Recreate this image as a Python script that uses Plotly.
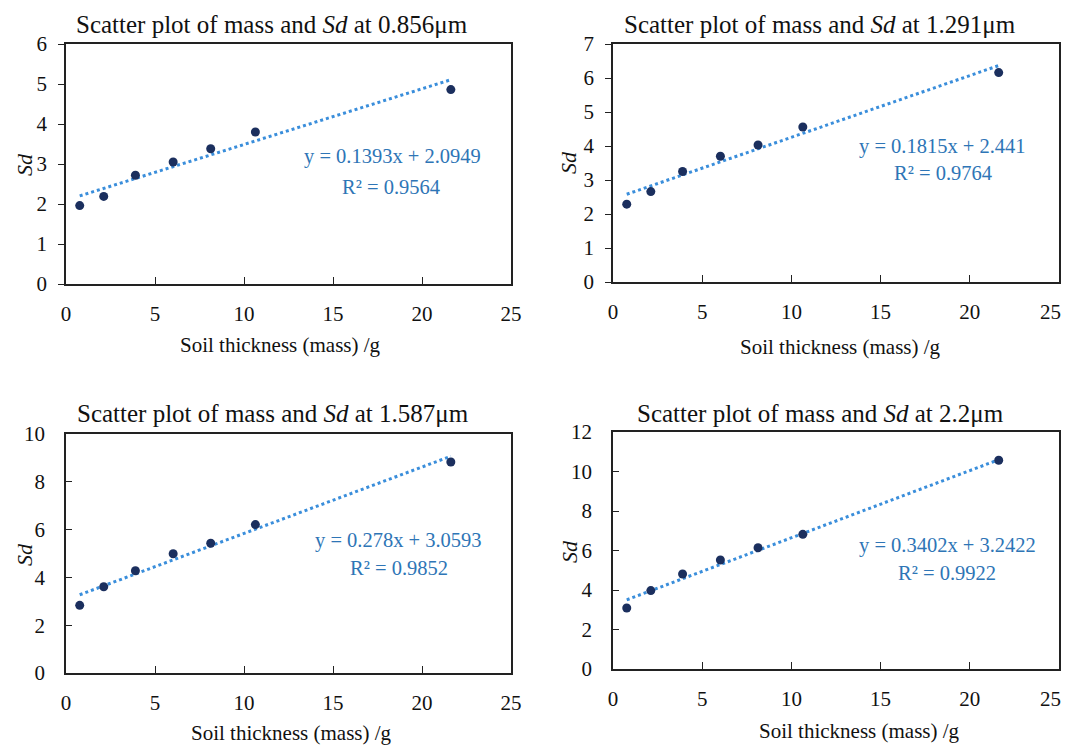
import numpy as np
import plotly.graph_objects as go
from plotly.subplots import make_subplots

# page has an 8px body margin; figure sized so page fits the 1071x746 window
OFF = 8
FW, FH = 1063, 738

mass = [0.77, 2.12, 3.9, 6.02, 8.13, 10.64, 21.62]
sd_0856 = [1.96, 2.19, 2.72, 3.05, 3.38, 3.80, 4.86]
sd_1291 = [2.29, 2.66, 3.25, 3.70, 4.03, 4.56, 6.16]
sd_1587 = [2.83, 3.61, 4.28, 4.99, 5.43, 6.21, 8.83]
sd_2200 = [3.09, 3.97, 4.81, 5.52, 6.14, 6.82, 10.57]

wavelengths = ["0.856", "1.291", "1.587", "2.2"]
slopes = [0.1393, 0.1815, 0.278, 0.3402]
intercepts = [2.0949, 2.441, 3.0593, 3.2422]
r2 = ["0.9564", "0.9764", "0.9852", "0.9922"]
eq_text = ["y = 0.1393x + 2.0949", "y = 0.1815x + 2.441",
           "y = 0.278x + 3.0593", "y = 0.3402x + 3.2422"]
y_max = [6, 7, 10, 12]
y_dtick = [1, 1, 2, 2]
x_ticks = [0, 5, 10, 15, 20, 25]
x_ticklabels = ["0", "5", "10", "15", "20", "25"]
series = [sd_0856, sd_1291, sd_1587, sd_2200]

# screen-pixel boxes of plot areas (x_left, x_right, y_top, y_bottom)
boxes = [(66, 511, 44, 284), (613, 1059, 44, 282),
         (66, 511, 434, 673), (613, 1059, 432, 669)]
title_pos = [(272, 25), (820, 25), (273, 413), (820, 413)]
xtitle_pos = [(280, 345), (840, 347), (291, 733), (859, 731)]
ytitle_pos = [(24, 165), (569, 163), (24, 555), (569, 552)]
eq_pos = [(392, 157), (942, 147), (398, 540), (947, 545)]
r2_pos = [(391, 187), (943, 173), (399, 568), (947, 573)]
yticks_dir = ["outside", "outside", "inside", "inside"]
right_col = [False, True, False, True]

FONT = "Liberation Serif"
MARKER = "#1B2F5E"
TREND = "#3A8EDB"
TXT = "#2E75B6"

fig = make_subplots(rows=2, cols=2)

for i in range(4):
    r, c = i // 2 + 1, i % 2 + 1
    ys = series[i]
    xl = np.array([min(mass), max(mass)])
    yl = slopes[i] * xl + intercepts[i]
    fig.add_trace(go.Scatter(x=xl, y=yl, mode="lines",
                             line=dict(color=TREND, width=3, dash="dot"),
                             showlegend=False, hoverinfo="skip"), row=r, col=c)
    fig.add_trace(go.Scatter(x=mass, y=ys, mode="markers",
                             marker=dict(color=MARKER, size=9),
                             showlegend=False), row=r, col=c)

def fx(sx):
    return (sx - OFF) / FW

def fy(sy):
    return 1 - (sy - OFF) / FH

layout_updates = {}
for i in range(4):
    x0, x1, yt, yb = boxes[i]
    sfx = "" if i == 0 else str(i + 1)
    labels = list(x_ticklabels)
    if right_col[i]:
        labels[-1] = ""  # drawn separately so it stays inside the page edge
    layout_updates["xaxis" + sfx] = dict(
        domain=[fx(x0), fx(x1)], range=[0, 25],
        tickmode="array", tickvals=x_ticks, ticktext=labels,
        showgrid=False, zeroline=False, showline=True, mirror=True,
        linecolor="#222", linewidth=1.5, ticks="inside", ticklen=7,
        tickcolor="#222", tickwidth=1.2, ticklabelstandoff=10,
        automargin=False,
        tickfont=dict(family=FONT, size=21, color="#111"))
    layout_updates["yaxis" + sfx] = dict(
        domain=[fy(yb), fy(yt)], range=[0, y_max[i]], dtick=y_dtick[i],
        tick0=0, showgrid=False, zeroline=False, showline=True, mirror=True,
        linecolor="#222", linewidth=1.5, ticks=yticks_dir[i], ticklen=6,
        tickcolor="#222", tickwidth=1.2, automargin=False,
        ticklabelstandoff=7 if yticks_dir[i] == "outside" else 15,
        tickfont=dict(family=FONT, size=21, color="#111"))

fig.update_layout(**layout_updates)

ann = []
def pix(x, y, text, size, color="#111", angle=0, xanchor="center"):
    ann.append(dict(x=fx(x), y=fy(y), xref="paper", yref="paper",
                    text=text, showarrow=False, xanchor=xanchor, yanchor="middle",
                    textangle=angle, font=dict(family=FONT, size=size, color=color)))

for i in range(4):
    pix(*title_pos[i], f"Scatter plot of mass and <i>Sd</i> at {wavelengths[i]}μm", 25)
    pix(*xtitle_pos[i], "Soil thickness (mass) /g", 21)
    pix(*ytitle_pos[i], "<i>Sd</i>", 22, angle=-90)
    pix(*eq_pos[i], eq_text[i], 20.5, TXT)
    pix(*r2_pos[i], f"R² = {r2[i]}", 20.5, TXT)
    if right_col[i]:
        pix(1063, boxes[i][3] + 30, x_ticklabels[-1], 21, xanchor="right")

fig.update_layout(annotations=ann, width=FW, height=FH,
                  margin=dict(l=0, r=0, t=0, b=0),
                  paper_bgcolor="white", plot_bgcolor="white",
                  font=dict(family=FONT))

fig.write_html("out.html")
